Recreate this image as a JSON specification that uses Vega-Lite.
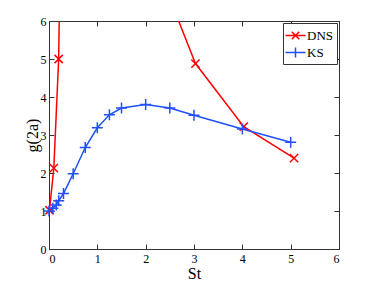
{
  "$schema": "https://vega.github.io/schema/vega-lite/v6.json",
  "width": 290,
  "height": 228,
  "autosize": {"type": "none"},
  "padding": {"left": 49, "top": 21, "right": 35, "bottom": 32},
  "background": "white",
  "data": {
    "values": [
      {"series": "DNS", "st": 0.01, "g": 1.02},
      {"series": "DNS", "st": 0.1, "g": 2.13},
      {"series": "DNS", "st": 0.2, "g": 5.0},
      {"series": "DNS", "st": 0.3, "g": 14.0},
      {"series": "DNS", "st": 2.0, "g": 8.2},
      {"series": "DNS", "st": 3.03, "g": 4.88},
      {"series": "DNS", "st": 4.03, "g": 3.22},
      {"series": "DNS", "st": 5.07, "g": 2.39},
      {"series": "KS", "st": 0.0, "g": 1.0},
      {"series": "KS", "st": 0.08, "g": 1.07},
      {"series": "KS", "st": 0.15, "g": 1.16},
      {"series": "KS", "st": 0.2, "g": 1.27},
      {"series": "KS", "st": 0.3, "g": 1.46},
      {"series": "KS", "st": 0.5, "g": 1.98},
      {"series": "KS", "st": 0.75, "g": 2.67},
      {"series": "KS", "st": 1.0, "g": 3.19},
      {"series": "KS", "st": 1.25, "g": 3.53},
      {"series": "KS", "st": 1.5, "g": 3.71},
      {"series": "KS", "st": 2.0, "g": 3.8},
      {"series": "KS", "st": 2.5, "g": 3.71},
      {"series": "KS", "st": 3.0, "g": 3.52},
      {"series": "KS", "st": 4.0, "g": 3.16},
      {"series": "KS", "st": 5.0, "g": 2.81}
    ]
  },
  "layer": [
    {
      "mark": {"type": "line", "clip": true, "strokeWidth": 1.5},
      "encoding": {
        "x": {
          "field": "st", "type": "quantitative",
          "scale": {"domain": [0, 6], "nice": false},
          "axis": {"orient": "bottom", "title": "St", "values": [0, 1, 2, 3, 4, 5, 6], "labelPadding": 9, "titlePadding": 1}
        },
        "y": {
          "field": "g", "type": "quantitative",
          "scale": {"domain": [0, 6], "nice": false},
          "axis": {"orient": "left", "title": "g(2a)", "values": [0, 1, 2, 3, 4, 5, 6], "labelPadding": 8, "titlePadding": 0}
        },
        "color": {
          "field": "series", "type": "nominal",
          "scale": {"domain": ["DNS", "KS"], "range": ["#ff0000", "#1f4fff"]},
          "legend": null
        }
      }
    },
    {
      "transform": [{"filter": "datum.g <= 6"}],
      "mark": {"type": "point", "filled": false, "strokeWidth": 1.5, "size": 121, "opacity": 1},
      "encoding": {
        "x": {
          "field": "st", "type": "quantitative",
          "scale": {"domain": [0, 6], "nice": false},
          "axis": {"orient": "top", "title": null, "labels": false, "values": [0, 1, 2, 3, 4, 5, 6]}
        },
        "y": {
          "field": "g", "type": "quantitative",
          "scale": {"domain": [0, 6], "nice": false},
          "axis": {"orient": "right", "title": null, "labels": false, "values": [0, 1, 2, 3, 4, 5, 6]}
        },
        "color": {
          "field": "series", "type": "nominal",
          "scale": {"domain": ["DNS", "KS"], "range": ["#ff0000", "#1f4fff"]},
          "legend": null
        },
        "shape": {
          "field": "series", "type": "nominal",
          "scale": {"domain": ["DNS", "KS"], "range": ["M-0.75,-0.75L0.75,0.75M-0.75,0.75L0.75,-0.75", "M-1,0L1,0M0,-1L0,1"]},
          "legend": null
        }
      }
    },
    {
      "transform": [{"filter": "datum.g > 1000"}],
      "mark": {"type": "point", "filled": false, "strokeWidth": 1.5, "opacity": 1},
      "encoding": {
        "x": {"field": "st", "type": "quantitative", "scale": {"domain": [0, 6], "nice": false}, "axis": null},
        "y": {"field": "g", "type": "quantitative", "scale": {"domain": [0, 6], "nice": false}, "axis": null},
        "color": {
          "field": "series", "type": "nominal",
          "scale": {"domain": ["DNS", "KS"], "range": ["#ff0000", "#1f4fff"]}
        },
        "shape": {
          "field": "series", "type": "nominal",
          "scale": {"domain": ["DNS", "KS"], "range": ["M-1.2,0L1.2,0M-0.45,-0.45L0.45,0.45M-0.45,0.45L0.45,-0.45", "M-1.2,0L1.2,0M0,-0.6L0,0.6"]}
        }
      }
    }
  ],
  "resolve": {
    "axis": {"x": "independent", "y": "independent"},
    "scale": {"color": "independent", "shape": "independent"}
  },
  "config": {
    "view": {"stroke": "#333333", "strokeWidth": 1},
    "axis": {
      "domain": false,
      "grid": false,
      "tickColor": "#333333",
      "tickSize": -5,
      "tickWidth": 1,
      "labelFont": "Liberation Serif",
      "labelFontSize": 12,
      "labelColor": "#000000",
      "titleFont": "Liberation Serif",
      "titleFontSize": 16,
      "titleFontWeight": "normal",
      "titleColor": "#000000"
    },
    "legend": {
      "orient": "top-right",
      "offset": 2,
      "title": null,
      "strokeColor": "#333333",
      "fillColor": "#ffffff",
      "padding": 3,
      "rowPadding": 0,
      "labelFont": "Liberation Serif",
      "labelFontSize": 13,
      "labelColor": "#000000",
      "labelOffset": 2,
      "symbolSize": 280,
      "symbolStrokeWidth": 1.5
    }
  }
}
